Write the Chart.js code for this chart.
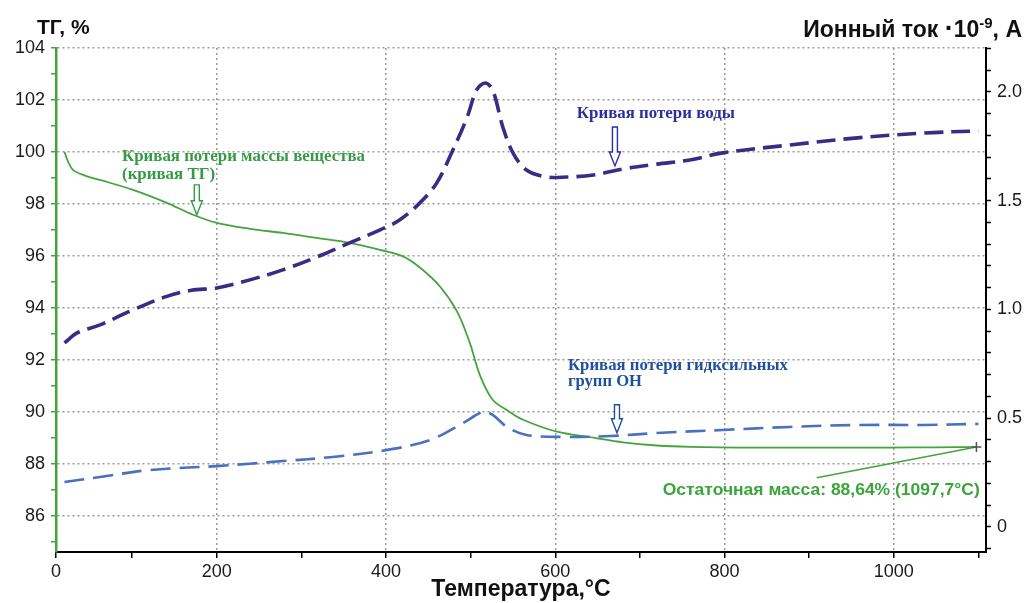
<!DOCTYPE html>
<html>
<head>
<meta charset="utf-8">
<script src="https://cdn.jsdelivr.net/npm/chart.js@4.4.1/dist/chart.umd.min.js"></script>
<style>
html,body{margin:0;padding:0;background:#fff;}
#wrap{width:1026px;height:603px;position:relative;}
</style>
</head>
<body>
<div id="wrap"><canvas id="c"></canvas></div>
<script>
// ---- Data ----
// TG curve (left axis, %)
const tgTemp   = [20, 24, 30, 45, 62, 101, 141, 172, 200, 239, 278, 318, 357, 393, 420, 440, 464, 484, 499, 511, 526, 543, 562, 602, 645, 680, 720, 759, 838, 916, 995, 1050, 1098];
const tgValues = [100.0, 99.65, 99.31, 99.08, 98.92, 98.54, 98.04, 97.58, 97.27, 97.04, 96.88, 96.69, 96.5, 96.23, 95.98, 95.55, 94.81, 93.85, 92.65, 91.4, 90.46, 90.06, 89.69, 89.23, 89.0, 88.82, 88.7, 88.65, 88.62, 88.62, 88.62, 88.63, 88.64];

// Water loss curve (right axis, ion current ·10^-9 A)
const waterTemp   = [20, 35, 62, 101, 141, 170, 200, 239, 278, 318, 357, 393, 416, 440, 460, 479, 496, 507, 517, 526, 538, 550, 566, 590, 614, 645, 680, 720, 759, 798, 877, 957, 1035, 1100];
const waterValues = [0.846, 0.892, 0.929, 0.998, 1.060, 1.088, 1.099, 1.136, 1.182, 1.241, 1.306, 1.366, 1.411, 1.490, 1.582, 1.733, 1.885, 2.009, 2.041, 2.009, 1.839, 1.720, 1.641, 1.609, 1.609, 1.618, 1.646, 1.668, 1.687, 1.720, 1.756, 1.789, 1.811, 1.821];

// OH-group loss curve (right axis)
const ohTemp   = [20, 62, 121, 200, 278, 337, 401, 452, 491, 515, 526, 543, 566, 609, 665, 720, 798, 877, 957, 1035, 1100];
const ohValues = [0.207, 0.230, 0.262, 0.280, 0.303, 0.322, 0.354, 0.400, 0.478, 0.529, 0.515, 0.460, 0.423, 0.414, 0.418, 0.432, 0.446, 0.460, 0.469, 0.469, 0.474];

// Residual mass point
const residualTemp = 1097.7;
const residualMass = 88.64;

// Tick values / labels
const xTickValues  = [10, 100, 200, 300, 400, 500, 600, 700, 800, 900, 1000, 1100];
const xTickLabels  = ['0', '', '200', '', '400', '', '600', '', '800', '', '1000', ''];
const xGridValues  = [200, 400, 600, 800, 1000];
const yLeftTickValues = [85, 86, 87, 88, 89, 90, 91, 92, 93, 94, 95, 96, 97, 98, 99, 100, 101, 102, 103, 104];
const yLeftTickLabels = ['', '86', '', '88', '', '90', '', '92', '', '94', '', '96', '', '98', '', '100', '', '102', '', '104'];
const yRightTickValues = [-0.1, 0, 0.1, 0.2, 0.3, 0.4, 0.5, 0.6, 0.7, 0.8, 0.9, 1.0, 1.1, 1.2, 1.3, 1.4, 1.5, 1.6, 1.7, 1.8, 1.9, 2.0, 2.1, 2.2];
const yRightTickLabels = ['', '0', '', '', '', '', '0.5', '', '', '', '', '1.0', '', '', '', '', '1.5', '', '', '', '', '2.0', '', ''];

// ---- Styles ----
const SANS = '"Liberation Sans", Arial, sans-serif';
const SERIF = '"Liberation Serif", "Times New Roman", serif';
const GREEN = '#46a33e';
const WATER = '#3c2a85';
const OH = '#4a70c0';
const GRID = '#9a9a9a';

const pairs = (xs, ys) => xs.map((x, i) => ({x: x, y: ys[i]}));

// Annotation texts (positions in data coordinates: temperature, TG %)
const notes = [
  {text: 'Кривая потери массы вещества', t: 88, v: 99.65, w: 243, font: 'bold 17px ' + SERIF, color: '#339a45'},
  {text: '(кривая ТГ)', t: 88, v: 98.96, w: 93, font: 'bold 17px ' + SERIF, color: '#339a45'},
  {text: 'Кривая потери воды', t: 625.5, v: 101.31, w: 158, font: 'bold 17px ' + SERIF, color: '#2b2f9e'},
  {text: 'Кривая потери гидксильных', t: 615, v: 91.62, w: 220, font: 'bold 17px ' + SERIF, color: '#1f4f9e'},
  {text: 'групп ОН', t: 615, v: 90.99, w: 74, font: 'bold 17px ' + SERIF, color: '#1f4f9e'},
  {text: 'Остаточная масса: 88,64% (1097,7°C)', t: 727, v: 86.81, w: 317, font: 'bold 17px ' + SANS, color: '#3aa53a'}
];
const arrows = [
  {t: 176.4, top: 98.73, tip: 97.58, color: '#339a45'},
  {t: 670.5, top: 100.96, tip: 99.46, color: '#2b2f9e'},
  {t: 672.9, top: 90.27, tip: 89.19, color: '#1f4f9e'}
];
const leaderStart = {t: 909, v: 87.46};

function fitText(ctx, text, px, py, w, font, color) {
  ctx.save();
  ctx.font = font;
  const m = ctx.measureText(text).width;
  ctx.translate(px, py);
  ctx.scale(w / m, 1);
  ctx.fillStyle = color;
  ctx.textAlign = 'left';
  ctx.textBaseline = 'alphabetic';
  ctx.fillText(text, 0, 0);
  ctx.restore();
}

const overlay = {
  id: 'overlay',
  afterDraw(chart) {
    const ctx = chart.ctx;
    const sx = chart.scales.x, sy = chart.scales.yL;
    ctx.save();
    // Left axis title
    ctx.fillStyle = '#111';
    ctx.font = 'bold 21px ' + SANS;
    ctx.textAlign = 'left';
    ctx.textBaseline = 'alphabetic';
    ctx.fillText('ТГ, %', 37, 34);

    // Right axis title with superscript
    const parts = [
      {t: 'Ионный ток ', f: 'bold 23px ' + SANS, dy: 0},
      {t: '·', f: 'bold 27px ' + SANS, dy: 0},
      {t: '10', f: 'bold 23px ' + SANS, dy: 0},
      {t: '-9', f: 'bold 15px ' + SANS, dy: -9},
      {t: ', А', f: 'bold 23px ' + SANS, dy: 0}
    ];
    let total = 0;
    parts.forEach(p => { ctx.font = p.f; p.w = ctx.measureText(p.t).width; total += p.w; });
    let px = 1022 - total;
    parts.forEach(p => { ctx.font = p.f; ctx.fillText(p.t, px, 37 + p.dy); px += p.w; });

    // Annotation texts
    notes.forEach(n => fitText(ctx, n.text, sx.getPixelForValue(n.t), sy.getPixelForValue(n.v), n.w, n.font, n.color));

    // Hollow arrows
    arrows.forEach(a => {
      const x = sx.getPixelForValue(a.t);
      const y0 = sy.getPixelForValue(a.top);
      const y1 = sy.getPixelForValue(a.tip);
      const hl = 14, sw = 2.5, hw = 5.5;
      ctx.beginPath();
      ctx.moveTo(x - sw, y0);
      ctx.lineTo(x + sw, y0);
      ctx.lineTo(x + sw, y1 - hl);
      ctx.lineTo(x + hw, y1 - hl);
      ctx.lineTo(x, y1);
      ctx.lineTo(x - hw, y1 - hl);
      ctx.lineTo(x - sw, y1 - hl);
      ctx.closePath();
      ctx.fillStyle = '#fff';
      ctx.fill();
      ctx.lineWidth = 1.4;
      ctx.strokeStyle = a.color;
      ctx.stroke();
    });

    // Leader line to residual point
    const rx = sx.getPixelForValue(residualTemp), ry = sy.getPixelForValue(residualMass);
    ctx.beginPath();
    ctx.moveTo(sx.getPixelForValue(leaderStart.t), sy.getPixelForValue(leaderStart.v));
    ctx.lineTo(rx, ry);
    ctx.lineWidth = 1.6;
    ctx.strokeStyle = GREEN;
    ctx.stroke();
    // Cross marker
    ctx.beginPath();
    ctx.moveTo(rx - 5, ry); ctx.lineTo(rx + 5, ry);
    ctx.moveTo(rx, ry - 5); ctx.lineTo(rx, ry + 5);
    ctx.lineWidth = 1.5;
    ctx.strokeStyle = '#4a5a4a';
    ctx.stroke();
    ctx.restore();
  }
};

new Chart(document.getElementById('c'), {
  type: 'line',
  data: {
    datasets: [
      {label: 'OH', data: pairs(ohTemp, ohValues), yAxisID: 'yR', borderColor: OH, borderWidth: 2.6, borderDash: [20, 9], pointRadius: 0, fill: false, tension: 0.35},
      {label: 'H2O', data: pairs(waterTemp, waterValues), yAxisID: 'yR', borderColor: WATER, borderWidth: 3.6, borderDash: [19, 8], pointRadius: 0, fill: false, tension: 0.35},
      {label: 'TG', data: pairs(tgTemp, tgValues), yAxisID: 'yL', borderColor: GREEN, borderWidth: 1.8, pointRadius: 0, fill: false, tension: 0.35}
    ]
  },
  options: {
    responsive: true,
    maintainAspectRatio: false,
    animation: false,
    events: [],
    layout: {padding: {top: 48, left: 0, right: 0, bottom: 0}},
    plugins: {legend: {display: false}, tooltip: {enabled: false}, title: {display: false}},
    scales: {
      x: {
        type: 'linear', min: 10, max: 1109,
        afterBuildTicks: s => { s.ticks = xTickValues.map(v => ({value: v})); },
        afterFit: s => { s.height = 51; },
        ticks: {autoSkip: false, maxRotation: 0, padding: 3, color: '#1a1a1a', font: {family: SANS, size: 18},
                callback: v => xTickLabels[xTickValues.indexOf(v)]},
        grid: {color: c => (c.tick && xGridValues.includes(c.tick.value)) ? GRID : 'transparent',
               lineWidth: 1.5, tickColor: '#000', tickLength: 6, tickWidth: 1.5},
        border: {color: '#000', width: 2, dash: [2, 3]},
        title: {display: true, text: 'Температура,°C', color: '#111', font: {family: SANS, size: 23, weight: 'bold'}, padding: {top: 0, bottom: 0}}
      },
      yL: {
        position: 'left', min: 84.6, max: 104,
        afterBuildTicks: s => { s.ticks = yLeftTickValues.map(v => ({value: v})); },
        afterFit: s => { s.width = 56; },
        ticks: {autoSkip: false, padding: 6, color: '#1a1a1a', font: {family: SANS, size: 18},
                callback: v => yLeftTickLabels[yLeftTickValues.indexOf(v)]},
        grid: {color: c => (c.tick && c.tick.value % 2 === 0) ? GRID : 'transparent',
               lineWidth: 1.5, tickColor: GREEN, tickLength: 5, tickWidth: 1.5},
        border: {color: GREEN, width: 2.5, dash: [2, 3]}
      },
      yR: {
        position: 'right', min: -0.115, max: 2.202,
        afterBuildTicks: s => { s.ticks = yRightTickValues.map(v => ({value: v})); },
        afterFit: s => { s.width = 40; },
        ticks: {autoSkip: false, padding: 6, color: '#1a1a1a', font: {family: SANS, size: 18},
                callback: v => yRightTickLabels[yRightTickValues.indexOf(v)]},
        grid: {drawOnChartArea: false, tickColor: '#000', tickLength: 5, tickWidth: 1.5},
        border: {color: '#000', width: 2}
      }
    }
  },
  plugins: [overlay]
});
</script>
</body>
</html>
